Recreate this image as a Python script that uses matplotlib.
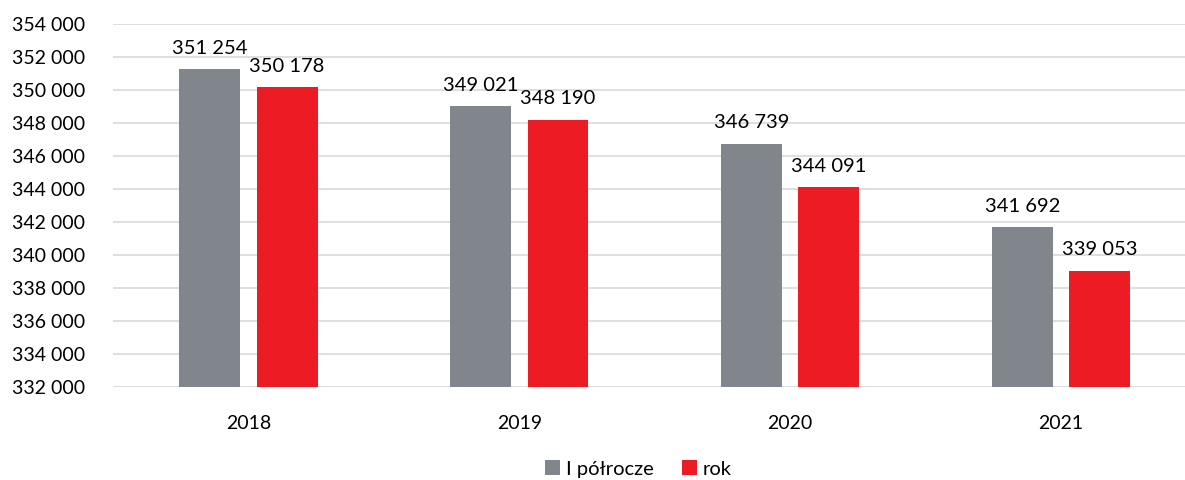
import matplotlib.pyplot as plt
import numpy as np

plt.rcParams['font.family'] = ['Lato', 'DejaVu Sans']

years = ["2018", "2019", "2020", "2021"]
half_year = [351254, 349021, 346739, 341692]
full_year = [350178, 348190, 344091, 339053]
labels = ["I półrocze", "rok"]

gray = "#80868B"
red = "#ED1C24"

def fmt(v):
    return f"{v:,}".replace(",", " ")

fig = plt.figure(figsize=(11.85, 4.8), dpi=100)
ax = fig.add_axes([113/1185, 1 - 387/480, 1 - 113/1185, (387 - 24)/480])

x = np.arange(len(years))
w = 0.225
off = 0.143
b1 = ax.bar(x - off, half_year, w, color=gray, label=labels[0], zorder=3)
b2 = ax.bar(x + off, full_year, w, color=red, label=labels[1], zorder=3)

for bars, vals in ((b1, half_year), (b2, full_year)):
    for b, v in zip(bars, vals):
        ax.text(b.get_x() + b.get_width()/2, v + 750, fmt(v),
                ha="center", va="bottom", fontsize=14.5, color="#000000")

ax.set_ylim(332000, 354000)
ax.set_xlim(-0.5, 3.458)
yt = np.arange(332000, 354001, 2000)
ax.set_yticks(yt)
ax.set_yticklabels([fmt(v) for v in yt])
ax.set_xticks(x)
ax.set_xticklabels(years)
ax.tick_params(axis="both", length=0, labelsize=14, colors="#000000")
ax.tick_params(axis="y", pad=20)
ax.tick_params(axis="x", pad=20)
ax.yaxis.grid(True, color="#D9D9D9", linewidth=1.2, zorder=0)
for s in ax.spines.values():
    s.set_visible(False)

ax.legend(loc="lower center", bbox_to_anchor=(0.5 - 0.01, -0.272), ncol=2,
          frameon=False, fontsize=14.5, handlelength=0.75, handleheight=0.75,
          handletextpad=0.3, columnspacing=1.4, borderaxespad=0)

fig.savefig("out.png", dpi=100)
